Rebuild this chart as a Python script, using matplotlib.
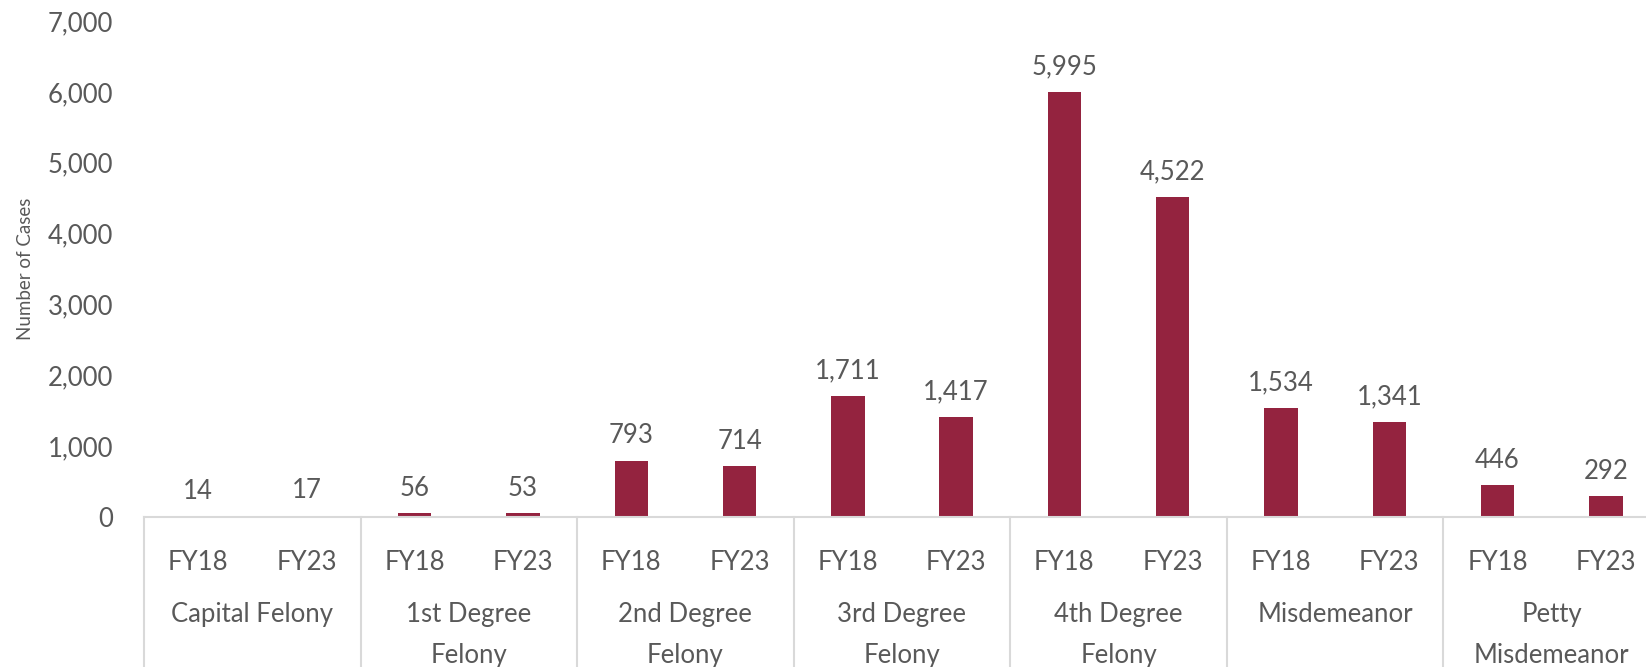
import matplotlib.pyplot as plt
import matplotlib.transforms as mtransforms

# data
groups = ["Capital Felony", "1st Degree\nFelony", "2nd Degree\nFelony", "3rd Degree\nFelony",
          "4th Degree\nFelony", "Misdemeanor", "Petty\nMisdemeanor"]
years = ["FY18", "FY23"]
cases = [14, 17, 56, 53, 793, 714, 1711, 1417, 5995, 4522, 1534, 1341, 446, 292]
yticks = [0, 1000, 2000, 3000, 4000, 5000, 6000, 7000]

plt.rcParams["font.family"] = ["Lato", "DejaVu Sans"]
text_color = "#595959"
bar_color = "#94233F"
line_color = "#D9D9D9"
fs = 18.5

fig = plt.figure(figsize=(16.46, 6.67), dpi=100)
# the plot runs a little past the right edge of the picture, as in the reference
ax = fig.add_axes([144 / 1646, 150 / 667, (1660 - 144) / 1646, 496 / 667])

x = list(range(len(cases)))
ax.bar(x, cases, width=0.31, color=bar_color)

for xi, v in zip(x, cases):
    ax.annotate(f"{v:,}", (xi, v), xytext=(0, 9), textcoords="offset points",
                ha="center", va="bottom", fontsize=fs, color=text_color)

ax.set_xlim(-0.5, len(cases) - 0.5)
ax.set_ylim(0, 7000)
ax.set_yticks(yticks)
ax.set_yticklabels([f"{t:,}" for t in yticks], fontsize=fs, color=text_color)
ax.set_xticks(x)
ax.set_xticklabels(years * len(groups), fontsize=fs, color=text_color)
ax.tick_params(axis="both", length=0)
ax.tick_params(axis="x", pad=24)
ax.tick_params(axis="y", pad=22)

for side in ["left", "right", "top"]:
    ax.spines[side].set_visible(False)
ax.spines["bottom"].set_color(line_color)
ax.spines["bottom"].set_linewidth(1.5)

ax.set_ylabel("Number of Cases", fontsize=13.5, color=text_color, labelpad=10)

# group labels and separators under the axis
trans = mtransforms.blended_transform_factory(ax.transData, ax.transAxes)
for i, g in enumerate(groups):
    ax.text(2 * i + 0.5, -0.172, g, transform=trans, ha="center", va="top",
            fontsize=fs, color=text_color, linespacing=1.8)
for i in range(len(groups) + 1):
    ax.plot([2 * i - 0.5, 2 * i - 0.5], [0, -0.31], transform=trans, color=line_color,
            linewidth=1.5, clip_on=False)

fig.savefig("out.png", dpi=100)
